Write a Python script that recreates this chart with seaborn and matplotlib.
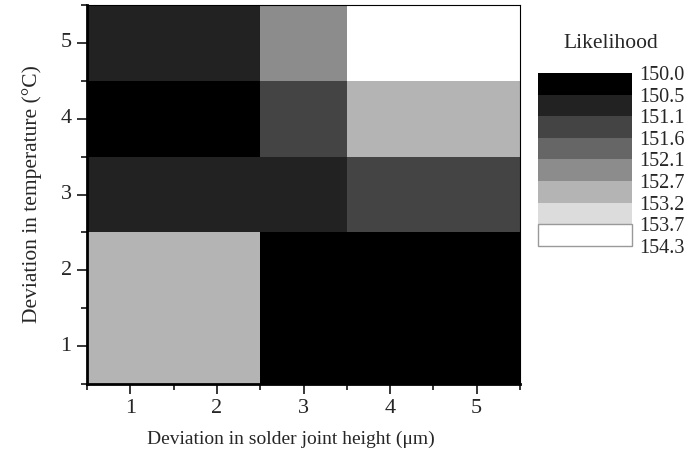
import numpy as np
import pandas as pd
import matplotlib
matplotlib.use("Agg")
import matplotlib.pyplot as plt
import seaborn as sns
from matplotlib.colors import ListedColormap, BoundaryNorm
from matplotlib.ticker import FixedLocator

sns.set_style("white")
plt.rcParams['font.family'] = ['Liberation Serif', 'DejaVu Serif']

x_labels = [1, 2, 3, 4, 5]
y_labels = [5, 4, 3, 2, 1]
# rows from y=5 (top) to y=1 (bottom)
row5 = [150.8, 150.8, 152.4, 154.3, 154.3]
row4 = [150.0, 150.0, 151.3, 152.9, 152.9]
row3 = [150.8, 150.8, 150.8, 151.3, 151.3]
row2 = [152.9, 152.9, 150.0, 150.0, 150.0]
row1 = [152.9, 152.9, 150.0, 150.0, 150.0]
levels = [150.0, 150.5375, 151.075, 151.6125, 152.15, 152.6875, 153.225, 153.7625, 154.3]
level_labels = ["150.0", "150.5", "151.1", "151.6", "152.1", "152.7", "153.2", "153.7", "154.3"]
colors = ["#000000", "#222222", "#444444", "#666666", "#8c8c8c", "#b4b4b4", "#dcdcdc", "#ffffff"]

df = pd.DataFrame([row5, row4, row3, row2, row1], index=y_labels, columns=x_labels)
cmap = ListedColormap(colors)
norm = BoundaryNorm(levels, cmap.N)

fig = plt.figure(figsize=(6.97, 4.62), dpi=100)
ax = fig.add_axes([87/697, 1-384/462, (520-87)/697, (384-5)/462])
cax = fig.add_axes([538/697, 1-246/462, (632-538)/697, (246-73)/462])

sns.heatmap(df, ax=ax, cmap=cmap, norm=norm, cbar=True, cbar_ax=cax)

# axes styling
ax.set_xlabel("Deviation in solder joint height (\u03bcm)", fontsize=14)
ax.set_ylabel("Deviation in temperature (\u00b0C)", fontsize=15.5)
ax.xaxis.set_label_coords((291-87)/433, (384-431)/379)
ax.yaxis.set_label_coords((42-87)/433, 0.5)
ax.tick_params(axis='both', which='major', labelsize=16, length=7, width=1.3,
               direction='out', bottom=True, left=True, pad=4)
ax.tick_params(axis='both', which='minor', length=4, width=1.3, direction='out',
               bottom=True, left=True)
ax.xaxis.set_minor_locator(FixedLocator(np.arange(0, 6)))
ax.yaxis.set_minor_locator(FixedLocator(np.arange(0, 6)))
ax.set_yticklabels([str(v) for v in y_labels], rotation=0)
ax.set_xticklabels([str(v) for v in x_labels], rotation=0)
for side in ['left', 'bottom']:
    ax.spines[side].set_visible(True)
    ax.spines[side].set_linewidth(2)
    ax.spines[side].set_color('black')
for side in ['top', 'right']:
    ax.spines[side].set_visible(True)
    ax.spines[side].set_linewidth(0.8)
    ax.spines[side].set_color('black')

# colorbar styling
cax.set_ylim(levels[-1], levels[0])
cax.yaxis.set_major_locator(FixedLocator(levels))
cax.set_yticklabels(level_labels)
cax.tick_params(axis='y', length=0, labelsize=14.5, pad=5)
cb = ax.collections[0].colorbar
cb.outline.set_visible(False)
cax.add_patch(plt.Rectangle((0, levels[-2]), 1, levels[-1]-levels[-2], fill=False,
                            edgecolor='#999999', linewidth=1, transform=cax.transData,
                            clip_on=False))
fig.text(611/697, 1-44/462, "Likelihood", ha='center', va='center', fontsize=15.5)

fig.savefig("out.png", dpi=100)
